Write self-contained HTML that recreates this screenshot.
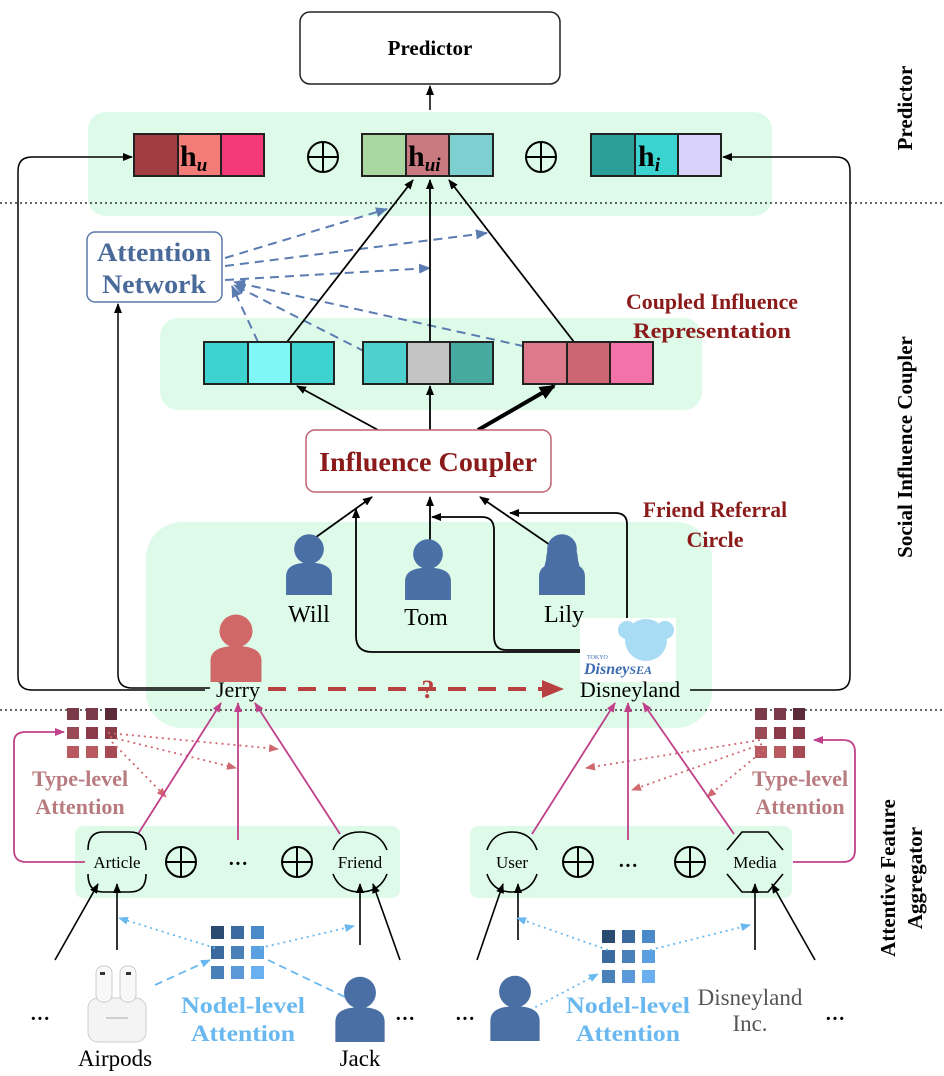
<!DOCTYPE html>
<html><head><meta charset="utf-8"><style>
html,body{margin:0;padding:0;background:#fff}
svg{display:block}
text{font-family:"Liberation Serif",serif}
</style></head><body>
<svg width="944" height="1076" viewBox="0 0 944 1076" xmlns="http://www.w3.org/2000/svg">
<defs>
<marker id="ak" markerWidth="10" markerHeight="10" refX="9" refY="5" orient="auto" markerUnits="userSpaceOnUse"><path d="M0,1 L10,5 L0,9 Z" fill="#000"/></marker>
<marker id="akb" markerWidth="16" markerHeight="16" refX="14" refY="8" orient="auto" markerUnits="userSpaceOnUse"><path d="M0,1 L16,8 L0,15 Z" fill="#000"/></marker>
<marker id="ab" markerWidth="12" markerHeight="12" refX="11" refY="6" orient="auto" markerUnits="userSpaceOnUse"><path d="M0,1 L12,6 L0,11 Z" fill="#5a7cb0"/></marker>
<marker id="am" markerWidth="10" markerHeight="10" refX="9" refY="5" orient="auto" markerUnits="userSpaceOnUse"><path d="M0,1 L10,5 L0,9 Z" fill="#c0408a"/></marker>
<marker id="ar" markerWidth="10" markerHeight="10" refX="9" refY="5" orient="auto" markerUnits="userSpaceOnUse"><path d="M0,1 L10,5 L0,9 Z" fill="#d06870"/></marker>
<marker id="al" markerWidth="10" markerHeight="10" refX="9" refY="5" orient="auto" markerUnits="userSpaceOnUse"><path d="M0,1 L10,5 L0,9 Z" fill="#6ab8f0"/></marker>
<marker id="ard" markerWidth="22" markerHeight="22" refX="20" refY="11" orient="auto" markerUnits="userSpaceOnUse"><path d="M0,2 L22,11 L0,20 Z" fill="#b84040"/></marker>
<g id="person"><circle cx="0" cy="-14" r="11"/><path d="M-17,20 L-17,6 Q-17,-4 0,-4 Q17,-4 17,6 L17,20 Z"/></g>
<g id="oplus"><circle cx="0" cy="0" r="15" fill="none" stroke="#000" stroke-width="2"/><line x1="-15" y1="0" x2="15" y2="0" stroke="#000" stroke-width="2"/><line x1="0" y1="-15" x2="0" y2="15" stroke="#000" stroke-width="2"/></g>
</defs>

<rect x="88" y="112" width="684" height="104" rx="18" fill="#defbea"/>
<rect x="160" y="318" width="542" height="92" rx="18" fill="#defbea"/>
<rect x="146" y="522" width="566" height="206" rx="36" fill="#defbea"/>
<rect x="75" y="826" width="325" height="72" rx="8" fill="#defbea"/>
<rect x="470" y="826" width="322" height="72" rx="8" fill="#defbea"/>

<line x1="0" y1="203" x2="944" y2="203" stroke="#333" stroke-width="1.5" stroke-dasharray="2,3"/>
<line x1="0" y1="710" x2="944" y2="710" stroke="#333" stroke-width="1.5" stroke-dasharray="2,3"/>

<rect x="300" y="12" width="260" height="72" rx="10" fill="#fff" stroke="#222" stroke-width="1.5"/>
<text x="430" y="55" font-size="21" font-weight="bold" text-anchor="middle">Predictor</text>
<line x1="430" y1="110" x2="430" y2="86" stroke="#000" stroke-width="1.5" marker-end="url(#ak)"/>

<g stroke="#222" stroke-width="2">
<rect x="134" y="134" width="44" height="42" fill="#a33c43"/><rect x="178" y="134" width="43" height="42" fill="#f47c78"/><rect x="221" y="134" width="43" height="42" fill="#f23a78"/>
<rect x="362" y="134" width="44" height="42" fill="#a8d8a0"/><rect x="406" y="134" width="43" height="42" fill="#c97a80"/><rect x="449" y="134" width="44" height="42" fill="#7ecfd0"/>
<rect x="591" y="134" width="44" height="42" fill="#2a9e97"/><rect x="635" y="134" width="43" height="42" fill="#3ad3cf"/><rect x="678" y="134" width="43" height="42" fill="#d9d2fb"/>
</g>
<text x="180" y="166" font-size="30" font-weight="bold">h<tspan font-size="19" font-style="italic" dy="5">u</tspan></text>
<text x="408" y="166" font-size="30" font-weight="bold">h<tspan font-size="19" font-style="italic" dy="5">ui</tspan></text>
<text x="638" y="166" font-size="30" font-weight="bold">h<tspan font-size="19" font-style="italic" dy="5">i</tspan></text>
<use href="#oplus" x="323" y="157"/><use href="#oplus" x="541" y="157"/>

<path d="M205,690 L32,690 Q18,690 18,676 L18,171 Q18,157 32,157 L132,157" fill="none" stroke="#000" stroke-width="1.5" marker-end="url(#ak)"/>
<path d="M210,688 L132,688 Q118,688 118,674 L118,304" fill="none" stroke="#000" stroke-width="1.5" marker-end="url(#ak)"/>
<path d="M690,690 L836,690 Q850,690 850,676 L850,171 Q850,157 836,157 L723,157" fill="none" stroke="#000" stroke-width="1.5" marker-end="url(#ak)"/>

<rect x="87" y="232" width="135" height="70" rx="8" fill="#fff" stroke="#5a7aa8" stroke-width="1.5"/>
<text x="154" y="261" font-size="26" font-weight="bold" fill="#4a6a9a" text-anchor="middle" textLength="114" lengthAdjust="spacingAndGlyphs">Attention</text>
<text x="154" y="293" font-size="26" font-weight="bold" fill="#4a6a9a" text-anchor="middle" textLength="104" lengthAdjust="spacingAndGlyphs">Network</text>
<g stroke="#5a7cb0" stroke-width="2" stroke-dasharray="9,6" fill="none">
<line x1="225" y1="258" x2="387" y2="209" marker-end="url(#ab)"/>
<line x1="225" y1="266" x2="487" y2="233" marker-end="url(#ab)"/>
<line x1="225" y1="280" x2="430" y2="268" marker-end="url(#ab)"/>
<line x1="258" y1="342" x2="232" y2="286" marker-end="url(#ab)"/>
<line x1="405" y1="372" x2="234" y2="285" marker-end="url(#ab)"/>
<line x1="568" y1="356" x2="234" y2="282" marker-end="url(#ab)"/>
</g>

<line x1="287" y1="342" x2="413" y2="180" stroke="#000" stroke-width="1.8" marker-end="url(#ak)"/>
<line x1="430" y1="342" x2="430" y2="180" stroke="#000" stroke-width="1.8" marker-end="url(#ak)"/>
<line x1="574" y1="342" x2="449" y2="180" stroke="#000" stroke-width="1.8" marker-end="url(#ak)"/>

<g stroke="#222" stroke-width="2">
<rect x="204" y="342" width="44" height="42" fill="#3dd3d0"/><rect x="248" y="342" width="43" height="42" fill="#80f7f7"/><rect x="291" y="342" width="43" height="42" fill="#3dd3d0"/>
<rect x="363" y="342" width="44" height="42" fill="#4ed0cf"/><rect x="407" y="342" width="43" height="42" fill="#c4c4c4"/><rect x="450" y="342" width="43" height="42" fill="#46aaa0"/>
<rect x="523" y="342" width="44" height="42" fill="#dc7a8c"/><rect x="567" y="342" width="43" height="42" fill="#cc6670"/><rect x="610" y="342" width="43" height="42" fill="#f472aa"/>
</g>
<text x="712" y="309" font-size="22" font-weight="bold" fill="#8b1a1a" text-anchor="middle" textLength="172" lengthAdjust="spacingAndGlyphs">Coupled Influence</text>
<text x="712" y="338" font-size="22" font-weight="bold" fill="#8b1a1a" text-anchor="middle" textLength="158" lengthAdjust="spacingAndGlyphs">Representation</text>

<line x1="378" y1="430" x2="297" y2="386" stroke="#000" stroke-width="1.8" marker-end="url(#ak)"/>
<line x1="430" y1="430" x2="430" y2="386" stroke="#000" stroke-width="1.8" marker-end="url(#ak)"/>
<line x1="478" y1="430" x2="554" y2="386" stroke="#000" stroke-width="4" marker-end="url(#akb)"/>
<rect x="306" y="430" width="245" height="62" rx="9" fill="#fff" stroke="#c06070" stroke-width="1.5"/>
<text x="428" y="471" font-size="27" font-weight="bold" fill="#8b1a1a" text-anchor="middle" textLength="218" lengthAdjust="spacingAndGlyphs">Influence Coupler</text>
<text x="715" y="517" font-size="22" font-weight="bold" fill="#8b1a1a" text-anchor="middle" textLength="144" lengthAdjust="spacingAndGlyphs">Friend Referral</text>
<text x="715" y="547" font-size="22" font-weight="bold" fill="#8b1a1a" text-anchor="middle">Circle</text>

<g stroke="#000" stroke-width="1.8" fill="none">
<line x1="312" y1="540" x2="372" y2="497" marker-end="url(#ak)"/>
<line x1="430" y1="543" x2="430" y2="497" marker-end="url(#ak)"/>
<line x1="553" y1="547" x2="480" y2="497" marker-end="url(#ak)"/>
<path d="M590,652 L372,652 Q356,652 356,636 L356,509" marker-end="url(#ak)"/>
<path d="M592,650 L506,650 Q494,650 494,636 L494,530 Q494,517 482,517 L432,517" marker-end="url(#ak)"/>
<path d="M627,632 L627,524 Q627,513 615,513 L510,513" marker-end="url(#ak)"/>
</g>

<g fill="#4a6fa5">
<use href="#person" transform="translate(309,568) scale(1.35)"/>
<use href="#person" transform="translate(428,573) scale(1.35)"/>
<use href="#person" transform="translate(562,568) scale(1.35)"/>
</g>
<path d="M546,560 Q547,540 562,540 Q577,540 578,560 L580,568 L544,568 Z" fill="#4a6fa5"/>
<text x="309" y="622" font-size="24" text-anchor="middle">Will</text>
<text x="426" y="625" font-size="24" text-anchor="middle">Tom</text>
<text x="564" y="622" font-size="24" text-anchor="middle">Lily</text>
<g fill="#d06868"><use href="#person" transform="translate(236,652) scale(1.5)"/></g>
<text x="238" y="697" font-size="22" text-anchor="middle">Jerry</text>

<rect x="580" y="618" width="96" height="64" fill="#fff"/>
<circle cx="646" cy="640" r="21" fill="#a8dcf4"/><circle cx="627" cy="630" r="9" fill="#a8dcf4"/><circle cx="665" cy="630" r="9" fill="#a8dcf4"/>
<text x="587" y="659" font-size="6" fill="#3a6ab0">TOKYO</text>
<text x="584" y="674" font-size="16" font-style="italic" fill="#3a6ab0" font-weight="bold">Disney<tspan font-size="12">SEA</tspan></text>
<text x="630" y="697" font-size="22" text-anchor="middle">Disneyland</text>
<line x1="268" y1="689" x2="562" y2="689" stroke="#b84040" stroke-width="4" stroke-dasharray="18,12" marker-end="url(#ard)"/>
<text x="428" y="698" font-size="26" font-weight="bold" fill="#b84040" text-anchor="middle">?</text>

<text transform="translate(912,108) rotate(-90)" font-size="21" font-weight="bold" text-anchor="middle">Predictor</text>
<text transform="translate(912,447) rotate(-90)" font-size="21" font-weight="bold" text-anchor="middle">Social Influence Coupler</text>
<text transform="translate(895,878) rotate(-90)" font-size="21" font-weight="bold" text-anchor="middle">Attentive Feature</text>
<text transform="translate(922,878) rotate(-90)" font-size="21" font-weight="bold" text-anchor="middle">Aggregator</text>

<g>
<rect x="67" y="708" width="12" height="12" fill="#7a3a48"/><rect x="86" y="708" width="12" height="12" fill="#7a3a48"/><rect x="105" y="708" width="12" height="12" fill="#5a2a38"/>
<rect x="67" y="727" width="12" height="12" fill="#9a4a54"/><rect x="86" y="727" width="12" height="12" fill="#8a3a48"/><rect x="105" y="727" width="12" height="12" fill="#8a3a48"/>
<rect x="67" y="746" width="12" height="12" fill="#b85a60"/><rect x="86" y="746" width="12" height="12" fill="#b85a60"/><rect x="105" y="746" width="12" height="12" fill="#a84a56"/>
<rect x="755" y="708" width="12" height="12" fill="#7a3a48"/><rect x="774" y="708" width="12" height="12" fill="#7a3a48"/><rect x="793" y="708" width="12" height="12" fill="#5a2a38"/>
<rect x="755" y="727" width="12" height="12" fill="#9a4a54"/><rect x="774" y="727" width="12" height="12" fill="#8a3a48"/><rect x="793" y="727" width="12" height="12" fill="#8a3a48"/>
<rect x="755" y="746" width="12" height="12" fill="#b85a60"/><rect x="774" y="746" width="12" height="12" fill="#b85a60"/><rect x="793" y="746" width="12" height="12" fill="#a84a56"/>
</g>
<text x="80" y="786" font-size="22" font-weight="bold" fill="#b87c80" text-anchor="middle">Type-level</text>
<text x="80" y="814" font-size="22" font-weight="bold" fill="#b87c80" text-anchor="middle">Attention</text>
<text x="800" y="786" font-size="22" font-weight="bold" fill="#b87c80" text-anchor="middle">Type-level</text>
<text x="800" y="814" font-size="22" font-weight="bold" fill="#b87c80" text-anchor="middle">Attention</text>

<g stroke="#d06870" stroke-width="1.8" stroke-dasharray="2,4" fill="none">
<line x1="108" y1="733" x2="278" y2="749" marker-end="url(#ar)"/>
<line x1="110" y1="737" x2="236" y2="768" marker-end="url(#ar)"/>
<line x1="112" y1="742" x2="166" y2="797" marker-end="url(#ar)"/>
<line x1="760" y1="740" x2="586" y2="768" marker-end="url(#ar)"/>
<line x1="762" y1="744" x2="632" y2="790" marker-end="url(#ar)"/>
<line x1="764" y1="750" x2="707" y2="797" marker-end="url(#ar)"/>
</g>

<g stroke="#c0408a" stroke-width="1.8" fill="none">
<path d="M85,862 L26,862 Q14,862 14,850 L14,742 Q14,732 26,732 L64,732" marker-end="url(#am)"/>
<path d="M793,862 L843,862 Q855,862 855,850 L855,752 Q855,740 843,740 L814,740" marker-end="url(#am)"/>
<line x1="138" y1="834" x2="221" y2="703" marker-end="url(#am)"/>
<line x1="238" y1="840" x2="238" y2="703" marker-end="url(#am)"/>
<line x1="340" y1="834" x2="255" y2="703" marker-end="url(#am)"/>
<line x1="532" y1="834" x2="615" y2="703" marker-end="url(#am)"/>
<line x1="628" y1="840" x2="628" y2="703" marker-end="url(#am)"/>
<line x1="734" y1="834" x2="643" y2="703" marker-end="url(#am)"/>
</g>

<g fill="none" stroke="#000" stroke-width="1.6">
<path d="M88,850 Q88,832 103,832 L130,832 Q146,832 146,850"/><path d="M88,874 Q88,892 103,892 L130,892 Q146,892 146,874"/>
<path d="M333,850 Q340,832 360,832 Q380,832 387,850"/><path d="M333,874 Q340,892 360,892 Q380,892 387,874"/>
<path d="M487,850 Q493,832 512,832 Q531,832 537,850"/><path d="M487,874 Q493,892 512,892 Q531,892 537,874"/>
<path d="M727,850 L742,832 L768,832 L783,850"/><path d="M727,874 L742,892 L768,892 L783,874"/>
</g>
<text x="117" y="868" font-size="17" text-anchor="middle">Article</text>
<text x="360" y="868" font-size="17" text-anchor="middle">Friend</text>
<text x="512" y="868" font-size="17" text-anchor="middle">User</text>
<text x="755" y="868" font-size="17" text-anchor="middle">Media</text>
<use href="#oplus" x="181" y="862"/><use href="#oplus" x="297" y="862"/>
<use href="#oplus" x="578" y="862"/><use href="#oplus" x="690" y="862"/>
<text x="238" y="870" font-size="20" font-weight="bold" text-anchor="middle">···</text>
<text x="628" y="872" font-size="20" font-weight="bold" text-anchor="middle">···</text>

<g stroke="#000" stroke-width="1.6">
<line x1="55" y1="960" x2="98" y2="884" marker-end="url(#ak)"/>
<line x1="117" y1="950" x2="117" y2="884" marker-end="url(#ak)"/>
<line x1="360" y1="945" x2="360" y2="884" marker-end="url(#ak)"/>
<line x1="400" y1="960" x2="373" y2="884" marker-end="url(#ak)"/>
<line x1="477" y1="960" x2="503" y2="884" marker-end="url(#ak)"/>
<line x1="518" y1="940" x2="518" y2="884" marker-end="url(#ak)"/>
<line x1="755" y1="950" x2="755" y2="884" marker-end="url(#ak)"/>
<line x1="815" y1="960" x2="772" y2="884" marker-end="url(#ak)"/>
</g>

<g>
<rect x="211" y="926" width="13" height="13" fill="#2a4a70"/><rect x="231" y="926" width="13" height="13" fill="#3a6aa0"/><rect x="251" y="926" width="13" height="13" fill="#4a8ac8"/>
<rect x="211" y="946" width="13" height="13" fill="#3a6aa0"/><rect x="231" y="946" width="13" height="13" fill="#4a80b8"/><rect x="251" y="946" width="13" height="13" fill="#5aa0e0"/>
<rect x="211" y="966" width="13" height="13" fill="#4a80b8"/><rect x="231" y="966" width="13" height="13" fill="#5a98d8"/><rect x="251" y="966" width="13" height="13" fill="#6ab0f0"/>
<rect x="602" y="930" width="13" height="13" fill="#2a4a70"/><rect x="622" y="930" width="13" height="13" fill="#3a6aa0"/><rect x="642" y="930" width="13" height="13" fill="#4a8ac8"/>
<rect x="602" y="950" width="13" height="13" fill="#3a6aa0"/><rect x="622" y="950" width="13" height="13" fill="#4a80b8"/><rect x="642" y="950" width="13" height="13" fill="#5aa0e0"/>
<rect x="602" y="970" width="13" height="13" fill="#4a80b8"/><rect x="622" y="970" width="13" height="13" fill="#5a98d8"/><rect x="642" y="970" width="13" height="13" fill="#6ab0f0"/>
</g>
<g stroke="#6ab8f0" stroke-width="1.8" stroke-dasharray="2,4" fill="none">
<line x1="215" y1="948" x2="119" y2="918" marker-end="url(#al)"/>
<line x1="260" y1="948" x2="354" y2="926" marker-end="url(#al)"/>
<line x1="608" y1="950" x2="517" y2="918" marker-end="url(#al)"/>
<line x1="650" y1="950" x2="750" y2="925" marker-end="url(#al)"/>
<line x1="530" y1="1010" x2="598" y2="974" marker-end="url(#al)"/>
</g>
<g stroke="#6ab8f0" stroke-width="1.8" stroke-dasharray="8,5" fill="none">
<line x1="155" y1="985" x2="210" y2="960" marker-end="url(#al)"/>
<line x1="345" y1="997" x2="268" y2="960"/>
</g>
<text x="243" y="1013" font-size="23" font-weight="bold" fill="#6ab8f0" text-anchor="middle" textLength="124" lengthAdjust="spacingAndGlyphs">Nodel-level</text>
<text x="243" y="1041" font-size="23" font-weight="bold" fill="#6ab8f0" text-anchor="middle" textLength="104" lengthAdjust="spacingAndGlyphs">Attention</text>
<text x="628" y="1013" font-size="23" font-weight="bold" fill="#6ab8f0" text-anchor="middle" textLength="124" lengthAdjust="spacingAndGlyphs">Nodel-level</text>
<text x="628" y="1041" font-size="23" font-weight="bold" fill="#6ab8f0" text-anchor="middle" textLength="104" lengthAdjust="spacingAndGlyphs">Attention</text>

<rect x="88" y="998" width="58" height="44" rx="10" fill="#f4f4f4" stroke="#ccc"/>
<rect x="96" y="966" width="16" height="36" rx="7" fill="#f8f8f8" stroke="#ccc"/>
<rect x="120" y="966" width="16" height="36" rx="7" fill="#f8f8f8" stroke="#ccc"/>
<rect x="100" y="972" width="5" height="3" fill="#333"/><rect x="126" y="972" width="5" height="3" fill="#333"/>
<line x1="106" y1="1018" x2="128" y2="1018" stroke="#aaa"/>
<text x="115" y="1066" font-size="23" text-anchor="middle">Airpods</text>

<g fill="#4a6fa5">
<use href="#person" transform="translate(360,1013) scale(1.45)"/>
<use href="#person" transform="translate(515,1012) scale(1.45)"/>
</g>
<text x="360" y="1066" font-size="23" text-anchor="middle">Jack</text>
<text x="750" y="1005" font-size="23" fill="#555" text-anchor="middle">Disneyland</text>
<text x="750" y="1031" font-size="23" fill="#555" text-anchor="middle">Inc.</text>
<g font-size="20" font-weight="bold" text-anchor="middle">
<text x="40" y="1025">···</text><text x="405" y="1025">···</text><text x="465" y="1025">···</text><text x="835" y="1025">···</text>
</g>
</svg>
</body></html>
